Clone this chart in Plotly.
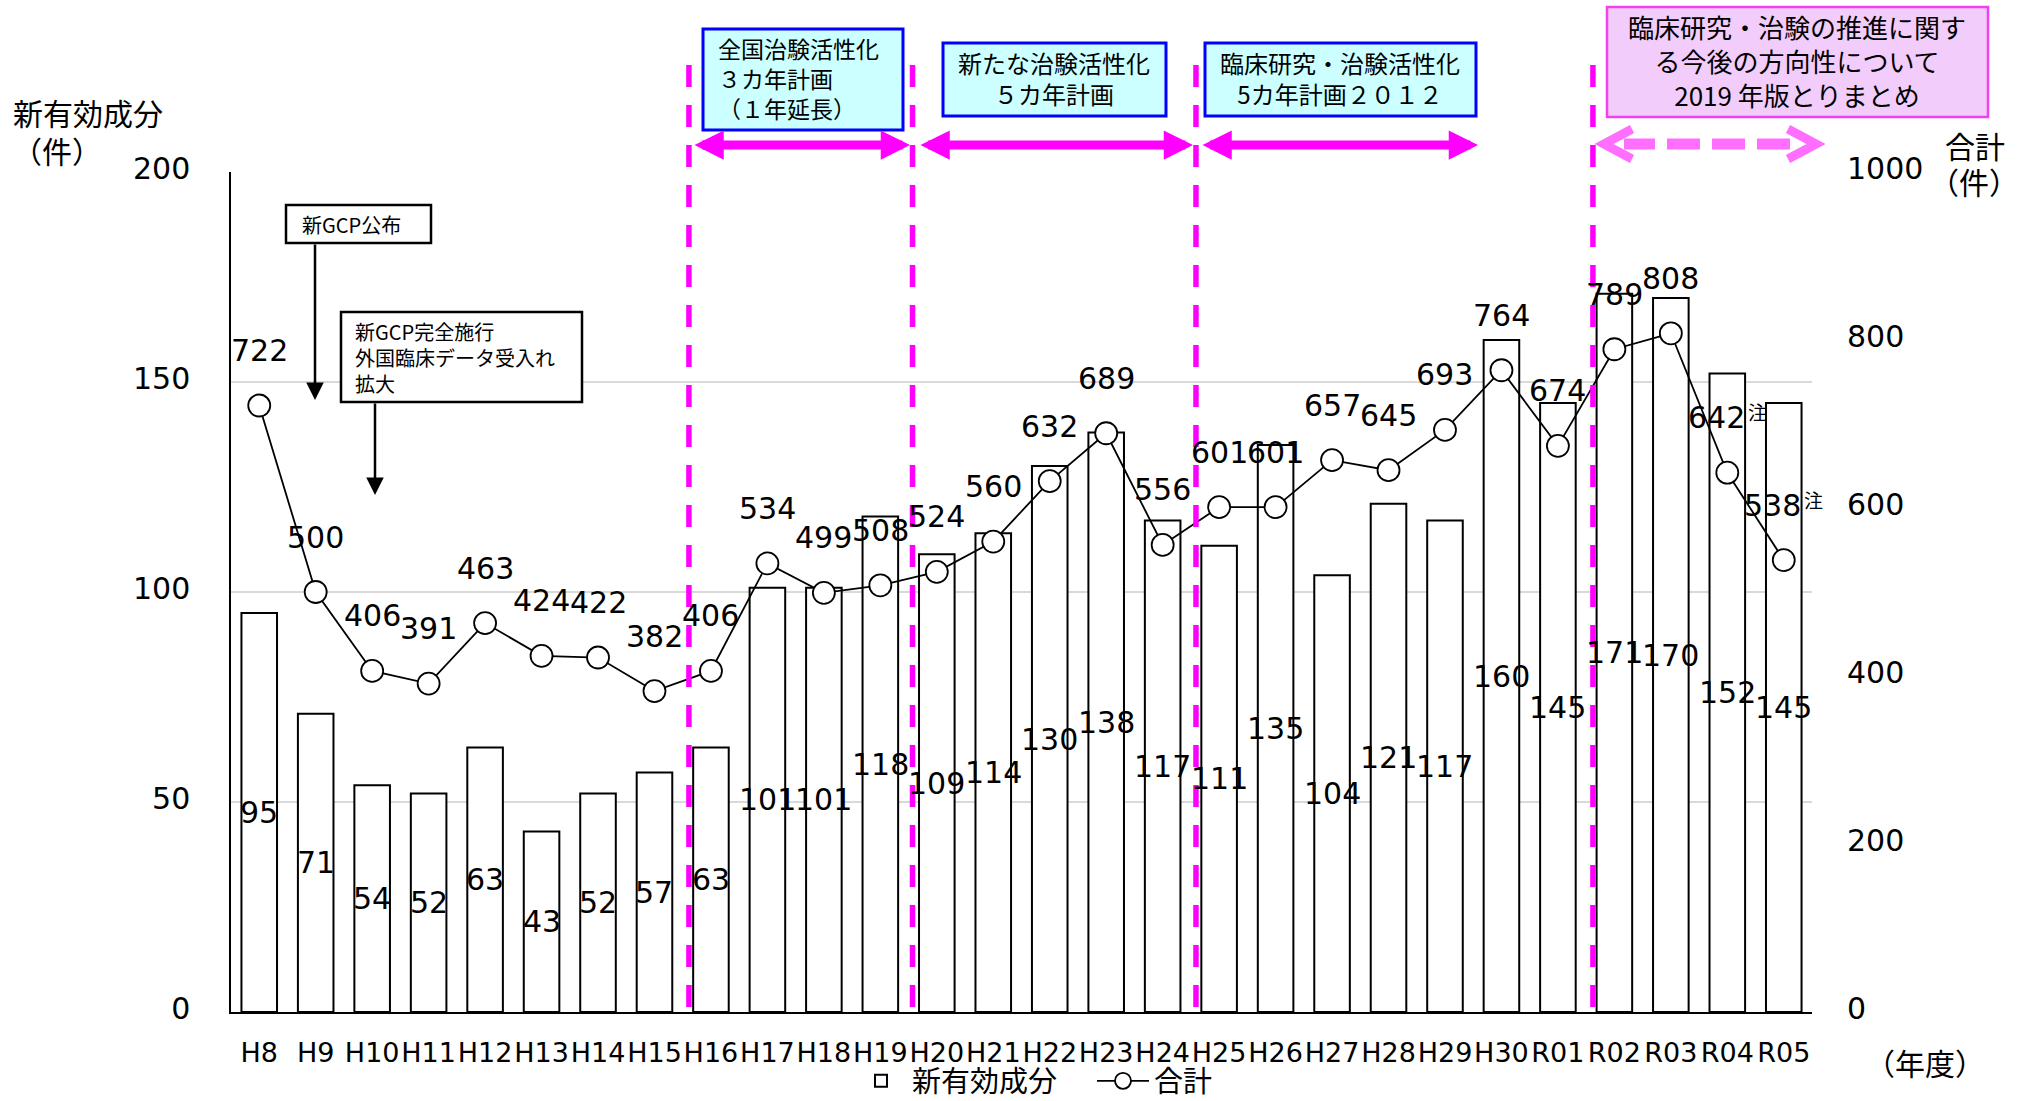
import plotly.graph_objects as go

# ---------------- data ----------------
years = ["H8", "H9", "H10", "H11", "H12", "H13", "H14", "H15", "H16", "H17",
         "H18", "H19", "H20", "H21", "H22", "H23", "H24", "H25", "H26", "H27",
         "H28", "H29", "H30", "R01", "R02", "R03", "R04", "R05"]
new_substances = [95, 71, 54, 52, 63, 43, 52, 57, 63, 101,
                  101, 118, 109, 114, 130, 138, 117, 111, 135, 104,
                  121, 117, 160, 145, 171, 170, 152, 145]
totals = [722, 500, 406, 391, 463, 424, 422, 382, 406, 534,
          499, 508, 524, 560, 632, 689, 556, 601, 601, 657,
          645, 693, 764, 674, 789, 808, 642, 538]
noted_years = ["R04", "R05"]
left_ticks = [0, 50, 100, 150, 200]
right_ticks = [0, 200, 400, 600, 800, 1000]

# ---------------- geometry / styles ----------------
FW, FH = 2022, 1101
L, R, T, B = 231, 1812, 172, 1012
NUM = "DejaVu Sans, Noto Sans CJK JP, sans-serif"
JP = "Noto Sans CJK JP, DejaVu Sans, sans-serif"
MAG = "#FF00FF"
PINK = "#FF6EFF"


def fx(p):
    return (p - L) / (R - L)


def fy(p):
    return (B - p) / (B - T)


fig = go.Figure()
fig.add_trace(go.Bar(
    x=years, y=new_substances, name="新有効成分",
    marker=dict(color="white", line=dict(color="black", width=2)),
    width=0.63,
))
fig.add_trace(go.Scatter(
    x=years, y=totals, name="合計", yaxis="y2", mode="lines+markers",
    line=dict(color="black", width=1.8),
    marker=dict(symbol="circle", size=22, color="white",
                line=dict(color="black", width=1.8)),
))

ann = []
# bar value labels (centre of bar)
for c, v in zip(years, new_substances):
    ann.append(dict(x=c, y=v / 2, xref="x", yref="y", text=str(v),
                    showarrow=False, font=dict(family=NUM, size=30, color="black")))
# total labels above markers
for c, v in zip(years, totals):
    shift = -11 if c in noted_years else 0
    ann.append(dict(x=c, y=v, xref="x", yref="y2", text=str(v), yshift=55,
                    xshift=shift, showarrow=False,
                    font=dict(family=NUM, size=30, color="black")))
    if c in noted_years:
        ann.append(dict(x=c, y=v, xref="x", yref="y2", text="注", yshift=61,
                        xshift=30, showarrow=False,
                        font=dict(family=JP, size=19, color="black")))


def txt(x, y, s, size=30, anchor="center", family=JP, align="center"):
    ann.append(dict(x=fx(x), y=fy(y), xref="paper", yref="paper", text=s,
                    showarrow=False, xanchor=anchor, yanchor="middle", align=align,
                    font=dict(family=family, size=size, color="black")))


# axis titles
txt(88, 112, "新有効成分")
txt(57, 150, "（件）")
txt(1975, 145, "合計")
txt(1974, 181, "（件）")
txt(1925, 1062, "（年度）")

# ---------------- shapes ----------------
shapes = []
# period separators
for xv in [7.61, 11.57, 16.59, 23.62]:
    shapes.append(dict(type="line", xref="x", yref="paper", x0=xv, x1=xv,
                       y0=fy(65), y1=0,
                       line=dict(color=MAG, width=5.5, dash="22px,18px")))


def box(x0, y0, x1, y1, fill, border, bw):
    shapes.append(dict(type="rect", xref="paper", yref="paper",
                       x0=fx(x0), x1=fx(x1), y0=fy(y0), y1=fy(y1),
                       fillcolor=fill, line=dict(color=border, width=bw),
                       layer="above"))


box(703, 29, 903, 130, "#CCFFFF", "#0000FF", 3)
txt(716, 78, "全国治験活性化<br>３カ年計画<br>（１年延長）", 23, "left", align="left")

box(943, 43, 1166, 116, "#CCFFFF", "#0000FF", 3)
txt(1054, 78, "新たな治験活性化<br>５カ年計画", 24)

box(1205, 43, 1476, 116, "#CCFFFF", "#0000FF", 3)
txt(1340, 78, "臨床研究・治験活性化<br>5カ年計画２０１２", 24)

box(1607, 7, 1988, 117, "#F2CCFA", "#F040F0", 2.5)
txt(1797, 60, "臨床研究・治験の推進に関す<br>る今後の方向性について<br>2019 年版とりまとめ", 26)

box(286, 205, 431, 243, "white", "black", 2.5)
txt(300, 224, "新GCP公布", 20, "left")
box(341, 312, 582, 402, "white", "black", 2.5)
txt(353, 357, "新GCP完全施行<br>外国臨床データ受入れ<br>拡大", 20, "left", align="left")

# black arrows from event boxes
for xtip, ytop, ytip in [(315, 243, 400), (375, 402, 495)]:
    ann.append(dict(x=fx(xtip), y=fy(ytip), xref="paper", yref="paper", text="",
                    showarrow=True, ax=0, ay=-(ytip - ytop), axref="pixel", ayref="pixel",
                    arrowhead=2, arrowsize=1.4, arrowwidth=2.5, arrowcolor="black",
                    standoff=0))

# magenta double arrows
for x0, x1 in [(693, 910), (919, 1193), (1201, 1478)]:
    ann.append(dict(x=fx(x1), y=fy(145), xref="paper", yref="paper", text="",
                    showarrow=True, ax=-(x1 - x0), ay=0, axref="pixel", ayref="pixel",
                    arrowside="end+start", arrowhead=2, startarrowhead=2,
                    arrowsize=0.65, startarrowsize=0.65, arrowwidth=9,
                    arrowcolor=MAG, standoff=0, startstandoff=0))

# dashed pink double arrow
shapes.append(dict(type="line", xref="paper", yref="paper", x0=fx(1790), x1=fx(1624),
                   y0=fy(144), y1=fy(144),
                   line=dict(color=PINK, width=11, dash="33px,12px")))
for tip, d in [(1604, 1), (1816, -1)]:
    p = "M {} {} L {} {} L {} {}".format(
        fx(tip + d * 28), fy(129), fx(tip), fy(144), fx(tip + d * 28), fy(159))
    shapes.append(dict(type="path", xref="paper", yref="paper", path=p,
                       line=dict(color=PINK, width=9)))

fig.update_layout(
    width=FW, height=FH,
    margin=dict(l=L, r=FW - R, t=T, b=FH - B, pad=0, autoexpand=False),
    paper_bgcolor="white", plot_bgcolor="white",
    font=dict(family=NUM, color="black"),
    showlegend=True,
    legend=dict(orientation="h", x=fx(850), xanchor="left", y=fy(1081),
                yanchor="middle", font=dict(family=JP, size=29),
                itemwidth=52, entrywidth=175, entrywidthmode="pixels",
                bgcolor="rgba(0,0,0,0)", traceorder="normal"),
    xaxis=dict(type="category", categoryorder="array", categoryarray=years,
               range=[-0.5, 27.5], showgrid=False, showline=True,
               linecolor="black", linewidth=2, ticks="", tickangle=0,
               tickfont=dict(family=NUM, size=27), ticklabelstandoff=16,
               zeroline=False, automargin=False),
    yaxis=dict(range=[0, 200], tickvals=left_ticks, showgrid=True,
               gridcolor="#D9D9D9", gridwidth=2, showline=True,
               linecolor="black", linewidth=1.5, ticks="", zeroline=False,
               tickfont=dict(family=NUM, size=30), ticklabelstandoff=33,
               ticklabelshift=-4, automargin=False),
    yaxis2=dict(range=[0, 1000], tickvals=right_ticks, overlaying="y",
                side="right", showgrid=False, showline=False, ticks="",
                zeroline=False, tickfont=dict(family=NUM, size=30),
                ticklabelstandoff=34, ticklabelshift=-4, automargin=False),
    annotations=ann, shapes=shapes,
)

fig.write_html("out.html")
